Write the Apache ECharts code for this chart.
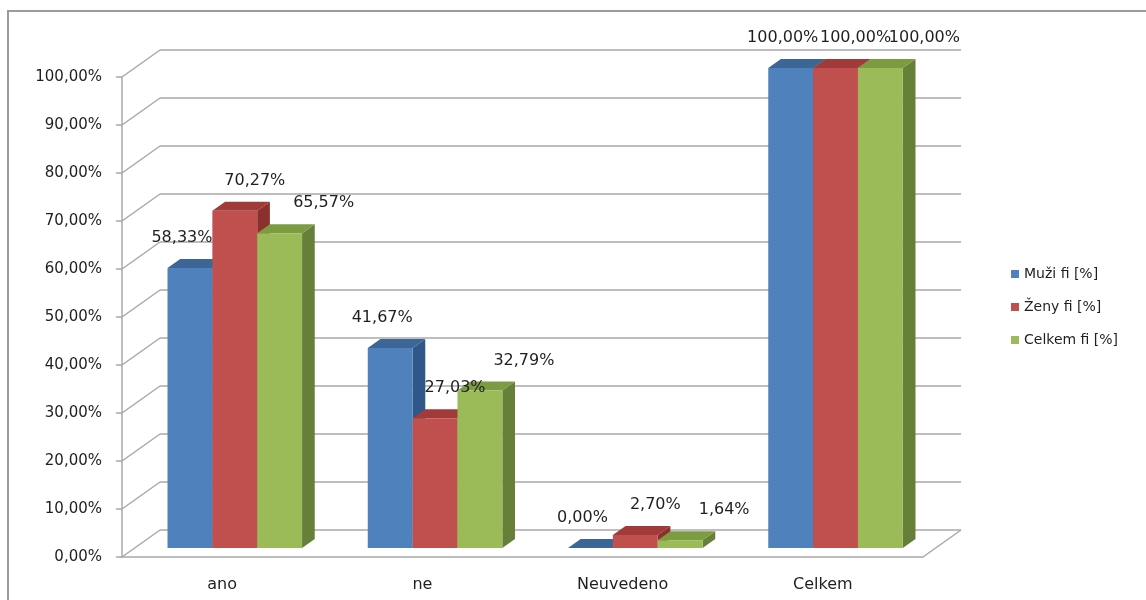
<!DOCTYPE html>
<html>
<head>
<meta charset="utf-8">
<script src="https://cdn.jsdelivr.net/npm/echarts@6/dist/echarts.min.js"></script>
<style>
  html, body { margin: 0; padding: 0; background: #fff; }
  #chart { width: 1146px; height: 600px; }
</style>
</head>
<body>
<div id="chart"></div>
<script>
// Survey answers, relative frequencies in percent
const categories = ['ano', 'ne', 'Neuvedeno', 'Celkem'];
const seriesNames = ['Muži fi [%]', 'Ženy fi [%]', 'Celkem fi [%]'];
const muzi = [58.33, 41.67, 0.00, 100.00];
const zeny = [70.27, 27.03, 2.70, 100.00];
const celkem = [65.57, 32.79, 1.64, 100.00];
const yTicks = [0, 10, 20, 30, 40, 50, 60, 70, 80, 90, 100];

const values = [muzi, zeny, celkem];

// Face colours for the pseudo-3D columns: front, top, side
const palette = [
  { front: '#4f81bd', top: '#3c6698', side: '#30578a' },
  { front: '#c0504d', top: '#a13b39', side: '#8c302e' },
  { front: '#9bbb59', top: '#7c9c42', side: '#66803a' }
];

// Depth of the floor / back wall in screen pixels
const DX = 38, DY = -27;
const FONT = 'DejaVu Sans';
const TEXT = '#1f1f1f';
const GRID = '#a8a8a8';

const fmt = v => v.toFixed(2).replace('.', ',') + '%';

const chart = echarts.init(document.getElementById('chart'));

function barItem(si) {
  return function (params, api) {
    const ci = api.value(0);
    const v = api.value(1);
    const band = api.size([1, 0])[0];
    const bw = band * 0.224;
    const c = api.coord([ci, v]);
    const base = api.coord([ci, 0]);
    const xl = c[0] - 1.5 * bw + si * bw + DX / 3;
    const xr = xl + bw;
    const yt = c[1] + DY / 3;
    const yb = base[1] + DY / 3;
    const ddx = DX / 3, ddy = DY / 3;
    const col = palette[si];
    return {
      type: 'group',
      children: [
        { type: 'polygon', shape: { points: [[xr, yt], [xr + ddx, yt + ddy], [xr + ddx, yb + ddy], [xr, yb]] },
          style: { fill: col.side } },
        { type: 'polygon', shape: { points: [[xl, yt], [xr, yt], [xr + ddx, yt + ddy], [xl + ddx, yt + ddy]] },
          style: { fill: col.top } },
        { type: 'rect', shape: { x: xl, y: yt, width: bw, height: yb - yt },
          style: { fill: col.front } }
      ]
    };
  };
}

// Value labels sit above each column, nudged sideways per series
const labelShift = [-8, 20, 44];
function labelItem(si) {
  return function (params, api) {
    const ci = api.value(0);
    const v = api.value(1);
    const band = api.size([1, 0])[0];
    const bw = band * 0.224;
    const c = api.coord([ci, v]);
    const xc = c[0] - bw + si * bw + DX / 3 + labelShift[si];
    const yt = c[1] + DY / 3;
    return {
      type: 'text',
      style: {
        x: xc, y: yt - 30, text: fmt(v),
        fill: TEXT, font: '16px "' + FONT + '"',
        textAlign: 'center', textVerticalAlign: 'middle'
      }
    };
  };
}

// Diagonal lines joining the front value axis to the back wall, plus floor edge
function wallItem(params, api) {
  const v = api.value(0);
  const cs = params.coordSys;
  const y = api.coord([0, v])[1];
  const children = [
    { type: 'line', shape: { x1: cs.x, y1: y, x2: cs.x + DX, y2: y + DY },
      style: { stroke: GRID, lineWidth: 1.5 } }
  ];
  if (v === 0) {
    children.push({ type: 'line',
      shape: { x1: cs.x + cs.width, y1: y, x2: cs.x + cs.width + DX, y2: y + DY },
      style: { stroke: GRID, lineWidth: 1.5 } });
  }
  return { type: 'group', children };
}

const series = [];
series.push({
  type: 'custom', name: 'walls', xAxisIndex: 0, yAxisIndex: 0,
  data: yTicks.map(t => [t]), encode: { y: 0 }, renderItem: wallItem,
  silent: true, z: 1
});
values.forEach((arr, si) => {
  series.push({
    type: 'custom', name: seriesNames[si], xAxisIndex: 0, yAxisIndex: 0,
    itemStyle: { color: palette[si].front },
    data: arr.map((v, i) => [i, v]), encode: { x: 0, y: 1 },
    renderItem: barItem(si), z: 3
  });
});
values.forEach((arr, si) => {
  series.push({
    type: 'custom', name: 'lbl' + si, xAxisIndex: 0, yAxisIndex: 0,
    data: arr.map((v, i) => [i, v]), encode: { x: 0, y: 1 },
    renderItem: labelItem(si), z: 5, silent: true
  });
});

const option = {
  backgroundColor: '#ffffff',
  animation: false,
  textStyle: { fontFamily: FONT },
  graphic: [{
    type: 'rect', silent: true, z: 0,
    shape: { x: 8, y: 11, width: 1300, height: 800 },
    style: { fill: 'none', stroke: '#9a9a9a', lineWidth: 2 }
  }],
  legend: {
    data: seriesNames,
    orient: 'vertical',
    left: 1006, top: 262,
    icon: 'rect', itemWidth: 8, itemHeight: 8, itemGap: 19,
    textStyle: { fontFamily: FONT, fontSize: 14, color: TEXT }
  },
  grid: [
    { left: 122, top: 77, width: 801, height: 480 },
    { left: 122 + DX, top: 77 + DY, width: 801, height: 480 }
  ],
  xAxis: [
    {
      type: 'category', gridIndex: 0, data: categories,
      axisLine: { lineStyle: { color: GRID, width: 1.5 } },
      axisTick: { length: 6, lineStyle: { color: GRID, width: 1.5 } },
      axisLabel: { color: TEXT, fontFamily: FONT, fontSize: 16, margin: 20 },
      splitLine: { show: false }
    },
    { type: 'category', gridIndex: 1, data: categories, show: false }
  ],
  yAxis: [
    {
      type: 'value', gridIndex: 0, min: 0, max: 100, interval: 10,
      axisLine: { show: true, lineStyle: { color: GRID, width: 1.5 } },
      axisTick: { show: true, length: 6, lineStyle: { color: GRID, width: 1.5 } },
      axisLabel: { color: TEXT, fontFamily: FONT, fontSize: 15, margin: 20, formatter: fmt },
      splitLine: { show: false }
    },
    {
      type: 'value', gridIndex: 1, min: 0, max: 100, interval: 10,
      axisLine: { show: false }, axisTick: { show: false }, axisLabel: { show: false },
      splitLine: { show: true, lineStyle: { color: GRID, width: 1.5 } }
    }
  ],
  series
};

chart.setOption(option);
</script>
</body>
</html>
